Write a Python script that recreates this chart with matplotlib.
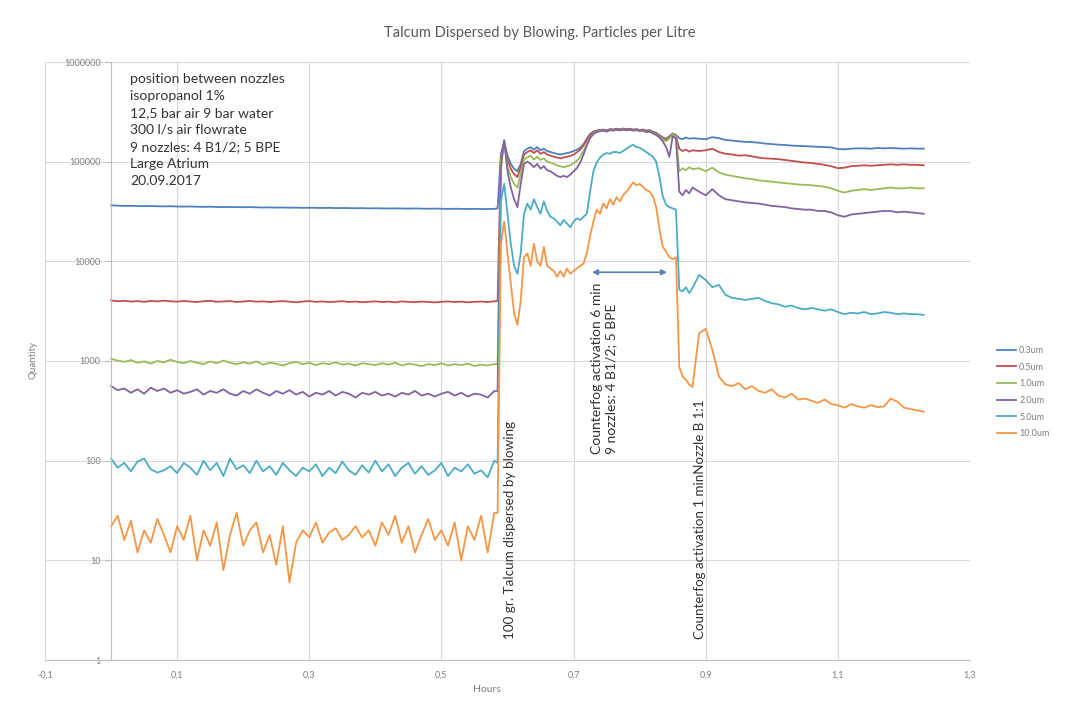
import numpy as np
import matplotlib
matplotlib.use("Agg")
import matplotlib.pyplot as plt
from matplotlib.ticker import FixedLocator, FuncFormatter

plt.rcParams['font.family'] = ['Lato', 'DejaVu Sans']

# ---------------- data ----------------
# sampling grid (hours): coarse before/after the event, finer during it
hours_a = np.round(np.arange(0.0, 0.585, 0.01), 3)       # 0.00 .. 0.58
hours_b = np.round(np.arange(0.585, 0.8825, 0.005), 3)   # 0.585 .. 0.880
hours_c = np.round(np.arange(0.89, 1.235, 0.01), 3)      # 0.89 .. 1.23
hours = np.concatenate([hours_a, hours_b, hours_c])

series_labels = ["0.3um", "0.5um", "1.0um", "2.0um", "5.0um", "10.0um"]
series_colors = ["#4F81BD", "#C0504D", "#9BBB59", "#8064A2", "#4BACC6", "#F79646"]

q_03 = [
    36500, 36200, 36000, 36100, 35900, 35800, 35900, 35700, 35600, 35700,
    35500, 35400, 35500, 35300, 35200, 35300, 35100, 35000, 35100, 35000,
    34900, 35000, 34800, 34700, 34800, 34600, 34700, 34500, 34600, 34400,
    34500, 34400, 34300, 34400, 34200, 34300, 34200, 34100, 34200, 34000,
    34100, 34000, 33900, 34000, 33900, 33800, 33900, 33800, 33700, 33800,
    33700, 33600, 33700, 33600, 33500, 33600, 33500, 33500, 33600,
    # event
    34000, 120000, 160000, 115000, 95000, 85000, 80000, 95000, 128000, 135000,
    140000, 132000, 140000, 130000, 135000, 128000, 125000, 122000, 120000, 118000,
    120000, 122000, 124000, 128000, 132000, 138000, 150000, 170000, 190000, 200000,
    205000, 208000, 210000, 206000, 212000, 210000, 214000, 211000, 215000, 212000,
    214000, 210000, 212000, 208000, 210000, 205000, 207000, 200000, 195000, 185000,
    175000, 170000, 180000, 192000, 185000, 172000, 168000, 175000, 170000, 172000,
    # after
    170000, 168000, 176000, 172000, 165000, 163000, 160000, 158000, 157000, 155000,
    152000, 150000, 148000, 147000, 145000, 144000, 143000, 142000, 141000, 140000,
    139000, 134000, 133000, 135000, 136000, 136000, 135000, 137000, 136000, 137000,
    136000, 135000, 136000, 135000, 135000,
]

q_05 = [
    4050, 3980, 4020, 3950, 3990, 3920, 4010, 3960, 4030, 3970,
    3940, 4000, 3950, 3900, 3980, 4020, 3930, 3960, 3990, 3910,
    3950, 4010, 3940, 3970, 3900, 3960, 3990, 3930, 3880, 3950,
    3990, 3920, 3960, 3900, 3940, 3980, 3910, 3950, 3890, 3930,
    3970, 3900, 3940, 3880, 3960, 3920, 3890, 3950, 3910, 3870,
    3930, 3960, 3900, 3940, 3880, 3920, 3950, 3900, 3980,
    # event
    3980, 110000, 155000, 105000, 85000, 75000, 70000, 88000, 118000, 125000,
    130000, 122000, 130000, 120000, 125000, 118000, 115000, 112000, 110000, 108000,
    110000, 112000, 114000, 118000, 124000, 132000, 145000, 165000, 185000, 198000,
    204000, 207000, 209000, 205000, 211000, 209000, 213000, 210000, 214000, 211000,
    213000, 209000, 211000, 207000, 209000, 204000, 206000, 198000, 192000, 182000,
    172000, 165000, 175000, 190000, 180000, 135000, 128000, 132000, 126000, 130000,
    # after
    128000, 130000, 135000, 125000, 120000, 118000, 115000, 116000, 113000, 110000,
    108000, 107000, 106000, 104000, 102000, 100000, 98000, 97000, 95000, 93000,
    90000, 86000, 87000, 90000, 91000, 92000, 91000, 92000, 93000, 94000,
    93000, 94000, 93000, 93000, 92000,
]

q_10 = [
    1050, 1010, 980, 1020, 960, 990, 940, 1000, 970, 1030,
    980, 950, 1000, 960, 930, 990, 950, 1010, 960, 930,
    970, 940, 990, 920, 960, 940, 900, 950, 980, 930,
    960, 910, 950, 930, 970, 920, 940, 900, 950, 930,
    910, 950, 920, 960, 900, 940, 920, 890, 930, 910,
    950, 900, 930, 910, 940, 890, 920, 900, 930,
    # event
    930, 100000, 155000, 90000, 70000, 60000, 55000, 75000, 105000, 110000,
    115000, 105000, 112000, 104000, 108000, 100000, 98000, 95000, 92000, 90000,
    88000, 90000, 92000, 96000, 102000, 112000, 128000, 150000, 175000, 192000,
    200000, 204000, 206000, 202000, 208000, 206000, 210000, 207000, 211000, 208000,
    210000, 206000, 208000, 204000, 206000, 200000, 202000, 195000, 188000, 178000,
    168000, 160000, 170000, 188000, 178000, 80000, 86000, 82000, 88000, 84000,
    # after
    86000, 80000, 87000, 78000, 74000, 72000, 70000, 68000, 67000, 65000,
    64000, 63000, 62000, 61000, 60000, 59000, 58500, 58000, 57000, 56000,
    54000, 51000, 49000, 51000, 52000, 53000, 52000, 53000, 54000, 55000,
    54000, 54000, 55000, 54000, 54000,
]

q_20 = [
    560, 510, 530, 480, 520, 470, 540, 500, 530, 480,
    510, 470, 490, 520, 460, 500, 480, 520, 470, 450,
    500, 470, 520, 480, 450, 500, 470, 510, 460, 490,
    440, 480, 460, 500, 450, 490, 470, 430, 480, 460,
    490, 450, 470, 440, 480, 460, 500, 450, 470, 440,
    470, 490, 450, 480, 440, 470, 460, 430, 500,
    # event
    500, 85000, 165000, 80000, 55000, 42000, 35000, 60000, 95000, 100000,
    95000, 88000, 95000, 85000, 90000, 82000, 80000, 76000, 72000, 70000,
    72000, 70000, 74000, 80000, 86000, 98000, 118000, 145000, 172000, 190000,
    198000, 202000, 205000, 200000, 207000, 205000, 209000, 206000, 210000, 207000,
    209000, 205000, 207000, 203000, 205000, 198000, 200000, 192000, 185000, 175000,
    160000, 140000, 112000, 180000, 170000, 50000, 46000, 52000, 48000, 55000,
    # after
    50000, 46000, 53000, 46000, 42000, 41000, 40000, 39000, 38500, 38000,
    37000, 36000, 35500, 35000, 34000, 33500, 33000, 33000, 32000, 32000,
    31000, 29000, 28000, 29500, 30000, 30500, 31000, 31500, 32000, 32000,
    31000, 31500, 31000, 30500, 30000,
]

q_50 = [
    105, 85, 95, 78, 98, 105, 82, 76, 80, 88,
    75, 95, 85, 72, 100, 80, 95, 70, 105, 82,
    90, 75, 100, 78, 88, 72, 95, 80, 70, 85,
    78, 92, 70, 85, 75, 98, 80, 72, 90, 76,
    100, 78, 92, 70, 85, 95, 74, 88, 72, 80,
    95, 70, 85, 78, 92, 74, 80, 68, 100,
    # event
    95, 40000, 60000, 30000, 15000, 9000, 7500, 12000, 30000, 38000,
    33000, 42000, 35000, 30000, 40000, 32000, 28000, 27000, 25000, 23000,
    26000, 24000, 22000, 25000, 27000, 26000, 28000, 30000, 50000, 80000,
    98000, 110000, 118000, 122000, 120000, 125000, 125000, 122000, 128000, 135000,
    142000, 148000, 140000, 138000, 132000, 125000, 118000, 112000, 100000, 70000,
    45000, 37000, 35000, 34000, 33000, 5200, 5000, 5500, 4800, 5400,
    # after
    7300, 6500, 5500, 5800, 4600, 4300, 4200, 4100, 4200, 4300,
    4000, 3800, 3700, 3500, 3600, 3400, 3300, 3400, 3300, 3200,
    3300, 3100, 2950, 3050, 3000, 3100, 2950, 3000, 3100, 3050,
    2950, 3000, 2950, 2950, 2900,
]

q_100 = [
    22, 28, 16, 25, 12, 20, 15, 26, 18, 12,
    22, 16, 28, 10, 20, 14, 24, 8, 18, 30,
    14, 20, 24, 12, 18, 9, 22, 6, 15, 20,
    17, 24, 15, 19, 21, 16, 18, 22, 17, 20,
    14, 24, 18, 28, 15, 22, 12, 18, 26, 16,
    20, 14, 24, 10, 22, 16, 28, 12, 30,
    # event
    30, 15000, 25000, 12000, 6000, 3000, 2300, 4000, 11000, 12000,
    9000, 15000, 10000, 9000, 14000, 9000, 8500, 8000, 7000, 8000,
    7000, 8500, 7500, 8000, 8500, 9000, 9500, 12000, 18000, 25000,
    33000, 30000, 38000, 34000, 42000, 37000, 44000, 40000, 46000, 50000,
    55000, 62000, 58000, 60000, 56000, 52000, 50000, 45000, 35000, 21000,
    14000, 12500, 11000, 10500, 11000, 870, 700, 650, 580, 550,
    # after
    1900, 2100, 1300, 700, 580, 560, 600, 520, 560, 500,
    480, 520, 450, 430, 470, 410, 420, 400, 380, 410,
    370, 360, 340, 370, 350, 340, 360, 345, 350, 420,
    390, 340, 330, 320, 310,
]

series_values = [q_03, q_05, q_10, q_20, q_50, q_100]

x_ticks = [-0.1, 0.1, 0.3, 0.5, 0.7, 0.9, 1.1, 1.3]
y_ticks = [1, 10, 100, 1000, 10000, 100000, 1000000]

title = "Talcum Dispersed by Blowing. Particles per Litre"
info_text = ("position between nozzles\nisopropanol 1%\n12,5 bar air 9 bar water\n"
             "300 l/s air flowrate\n9 nozzles: 4 B1/2; 5 BPE\nLarge Atrium\n20.09.2017")
note_blow = "100 gr. Talcum dispersed by blowing"
note_fog6 = "Counterfog activation 6 min\n9 nozzles: 4 B1/2; 5 BPE"
note_fog1 = "Counterfog activation 1 minNozzle B 1:1"

# ---------------- figure ----------------
W, H = 1073, 716
fig = plt.figure(figsize=(W / 100, H / 100), dpi=100)
fig.patch.set_facecolor("white")

ax_l, ax_r, ax_t, ax_b = 45, 970, 62, 660
ax = fig.add_axes([ax_l / W, 1 - ax_b / H, (ax_r - ax_l) / W, (ax_b - ax_t) / H])

for vals, lab, col in zip(series_values, series_labels, series_colors):
    ax.plot(hours, vals, color=col, lw=1.3, label=lab, solid_joinstyle="round")

ax.set_yscale("log")
ax.set_xlim(-0.1, 1.3)
ax.set_ylim(1, 1e6)

ax.xaxis.set_major_locator(FixedLocator(x_ticks))
ax.xaxis.set_major_formatter(FuncFormatter(lambda v, p: f"{v:.1f}".replace(".", ",")))
ax.yaxis.set_major_locator(FixedLocator(y_ticks))
ax.yaxis.set_major_formatter(FuncFormatter(lambda v, p: f"{int(round(v))}"))
ax.yaxis.set_minor_locator(FixedLocator([]))

ax.grid(True, which="major", color="#D9D9D9", lw=0.8)
ax.set_axisbelow(True)

for s in ["top", "right"]:
    ax.spines[s].set_visible(False)
ax.spines["left"].set_position(("data", 0))
ax.spines["left"].set_color("#BFBFBF")
ax.spines["bottom"].set_color("#BFBFBF")
ax.tick_params(axis="both", colors="#BFBFBF", labelcolor="#7F7F7F", labelsize=6.5, length=4)
ax.tick_params(axis="x", length=0, pad=8)

# title & axis labels
fig.text(540 / W, 1 - 33 / H, title, ha="center", va="center", fontsize=10.5, color="#595959")
fig.text(33 / W, 1 - 360 / H, "Quantity", ha="center", va="center", rotation=90,
         fontsize=7, color="#7F7F7F")
fig.text(487 / W, 1 - 690 / H, "Hours", ha="center", va="center", fontsize=7.5, color="#7F7F7F")

# info text box
ax.text(0.092, 0.982, info_text, transform=ax.transAxes, ha="left", va="top",
        fontsize=10, color="#333333", linespacing=1.5)

# annotations
ax.text(0.604, 1.64, note_blow, rotation=90, ha="center", va="bottom",
        fontsize=9.7, color="#333333")
ax.text(0.746, 118, note_fog6, rotation=90, ha="center", va="bottom",
        fontsize=10, color="#333333", multialignment="left", linespacing=1.15)
ax.text(0.891, 1.64, note_fog1, rotation=90, ha="center", va="bottom",
        fontsize=9.6, color="#333333")
ax.annotate("", xy=(0.728, 7770), xytext=(0.8415, 7770),
            arrowprops=dict(arrowstyle="<|-|>", color="#5A7FB5", lw=1.2,
                            mutation_scale=8, shrinkA=0, shrinkB=0))

# legend
leg = ax.legend(loc="center left", bbox_to_anchor=(1.02, 0.448), frameon=False,
                fontsize=6.5, handlelength=2.2, labelspacing=0.85, handletextpad=0.3)
for t in leg.get_texts():
    t.set_color("#7F7F7F")

fig.savefig("out.png", dpi=100)
